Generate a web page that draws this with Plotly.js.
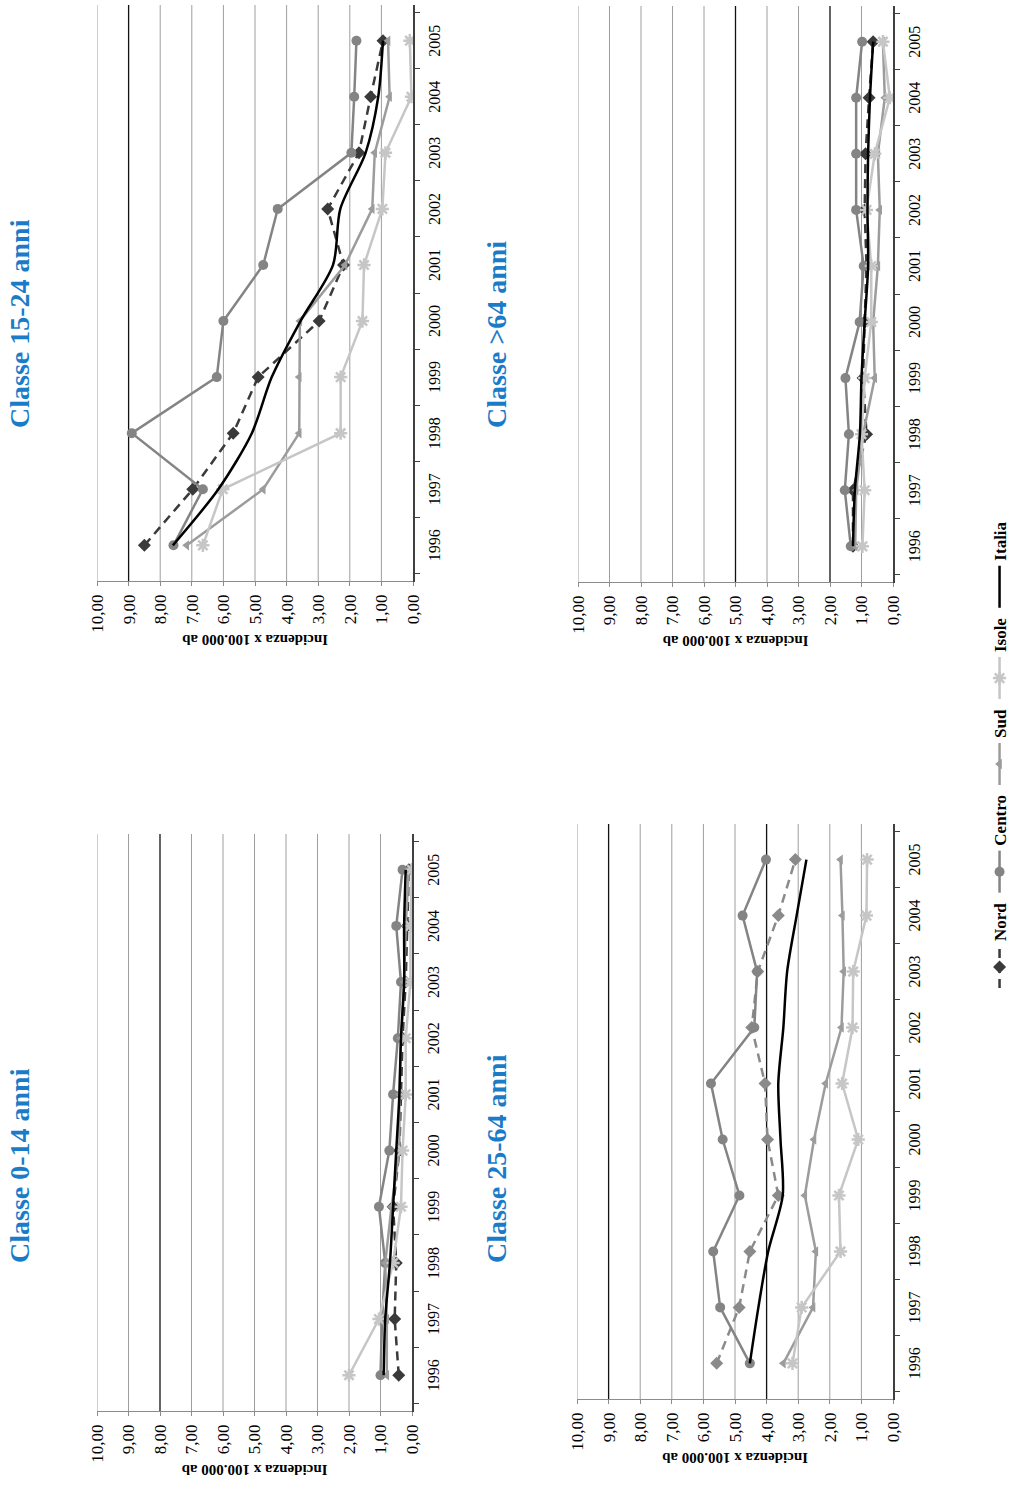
<!DOCTYPE html>
<html lang="it">
<head>
<meta charset="utf-8">
<script src="https://cdn.plot.ly/plotly-3.0.1.min.js"></script>
<style>
  html, body { margin: 0; padding: 0; background: #fff; overflow: hidden; }
  /* the page is laid out in landscape and turned a quarter turn */
  #pagina {
    position: absolute; left: 0; top: 0;
    width: 1493px; height: 1014px;
    transform-origin: 0 0;
    transform: translateY(1493px) rotate(-90deg);
  }
</style>
</head>
<body>
<div id="pagina"></div>
<script>
// Incidenza x 100.000 abitanti per ripartizione e classe d'età, 1996-2005
const anni = ['1996', '1997', '1998', '1999', '2000', '2001', '2002', '2003', '2004', '2005'];
const ripartizioni = ['Nord', 'Centro', 'Sud', 'Isole', 'Italia'];
const valoriAsse = [0, 1, 2, 3, 4, 5, 6, 7, 8, 9, 10];

// Classe 0-14 anni
const nord0014   = [0.42, 0.55, 0.50, 0.60, 0.40, 0.35, 0.30, 0.20, 0.15, 0.10];
const centro0014 = [1.00, 0.95, 0.85, 1.05, 0.72, 0.60, 0.45, 0.35, 0.50, 0.30];
const sud0014    = [0.80, 0.80, 0.85, 0.65, 0.40, 0.40, 0.35, 0.25, 0.20, 0.10];
const isole0014  = [2.00, 1.05, 0.60, 0.35, 0.30, 0.20, 0.20, 0.05, 0.05, 0.00];
const italia0014 = [0.90, 0.85, 0.70, 0.60, 0.50, 0.40, 0.35, 0.25, 0.25, 0.20];

// Classe 15-24 anni
const nord1524   = [8.50, 6.97, 5.69, 4.90, 2.97, 2.20, 2.70, 1.71, 1.34, 0.95];
const centro1524 = [7.58, 6.65, 8.90, 6.21, 6.00, 4.74, 4.28, 1.95, 1.86, 1.79];
const sud1524    = [7.16, 4.74, 3.60, 3.60, 3.58, 2.15, 1.29, 1.21, 0.74, 0.79];
const isole1524  = [6.65, 6.02, 2.29, 2.29, 1.60, 1.55, 0.97, 0.87, 0.05, 0.10];
const italia1524 = [7.60, 6.16, 5.10, 4.47, 3.56, 2.53, 2.30, 1.50, 1.10, 0.95];

// Classe 25-64 anni
const nord2564   = [5.58, 4.87, 4.53, 3.63, 3.97, 4.05, 4.47, 4.28, 3.63, 3.09];
const centro2564 = [4.53, 5.47, 5.69, 4.86, 5.39, 5.76, 4.39, 4.30, 4.76, 4.02];
const sud2564    = [3.47, 2.53, 2.44, 2.79, 2.50, 2.13, 1.63, 1.56, 1.60, 1.66];
const isole2564  = [3.18, 2.89, 1.66, 1.71, 1.10, 1.61, 1.28, 1.26, 0.84, 0.82];
const italia2564 = [4.53, 4.26, 3.95, 3.49, 3.56, 3.63, 3.47, 3.35, 3.05, 2.74];

// Classe >64 anni
const nord64   = [1.27, 1.27, 0.84, 0.95, 0.90, 0.84, 0.90, 0.87, 0.76, 0.63];
const centro64 = [1.34, 1.53, 1.40, 1.51, 1.06, 0.93, 1.17, 1.17, 1.17, 0.98];
const sud64    = [1.20, 1.17, 0.95, 0.58, 0.63, 0.48, 0.42, 0.48, 0.26, 0.32];
const isole64  = [0.97, 0.90, 1.00, 0.90, 0.69, 0.69, 0.84, 0.58, 0.10, 0.32];
const italia64 = [1.27, 1.21, 1.05, 1.00, 0.90, 0.79, 0.81, 0.79, 0.73, 0.63];

// righe di griglia più marcate in ciascun pannello
const righeScure0014 = [8];
const righeScure1524 = [9];
const righeScure2564 = [9, 4];
const righeScure64   = [5, 2];

const titoliPannelli = ['Classe 0-14 anni', 'Classe 15-24 anni', 'Classe 25-64 anni', 'Classe >64 anni'];
const titoloAsseY = 'Incidenza x 100.000 ab';

const SERIF = '"Liberation Serif", "Times New Roman", serif';
const W = 1493, H = 1014;

const stili = {
  Nord:   { mode: 'lines+markers', line: { color: '#3a3a3a', width: 2.5, dash: '9px,6px' },
            marker: { symbol: 'diamond', size: 10, color: '#3a3a3a' } },
  Centro: { mode: 'lines+markers', line: { color: '#848484', width: 2.5 },
            marker: { symbol: 'circle', size: 10, color: '#848484' } },
  Sud:    { mode: 'lines+markers', line: { color: '#9c9c9c', width: 2.5 },
            marker: { symbol: 'triangle-up', size: 9, color: '#9c9c9c' } },
  Isole:  { mode: 'lines+markers', line: { color: '#c6c6c6', width: 2.5 },
            marker: { symbol: 'asterisk-open', size: 11, color: '#c6c6c6', line: { color: '#c6c6c6', width: 2.5 } } },
  Italia: { mode: 'lines', line: { color: '#000000', width: 2.5, shape: 'spline', smoothing: 0.8 } }
};

const pannelli = [
  { serie: [nord0014, centro0014, sud0014, isole0014, italia0014], scure: righeScure0014 },
  { serie: [nord1524, centro1524, sud1524, isole1524, italia1524], scure: righeScure1524 },
  { serie: [nord2564, centro2564, sud2564, isole2564, italia2564], scure: righeScure2564, nordChiaro: true },
  { serie: [nord64, centro64, sud64, isole64, italia64], scure: righeScure64 }
];

// domini dei pannelli, in pixel della pagina orizzontale
const riquadri = [
  { u0: 82,  u1: 659,  v0: 97,  v1: 412 },
  { u0: 912, u1: 1488, v0: 97,  v1: 413 },
  { u0: 94,  u1: 669,  v0: 577, v1: 893 },
  { u0: 911, u1: 1487, v0: 578, v1: 893 }
];

const tracce = [];
const layout = {
  width: W, height: H,
  margin: { l: 0, r: 0, t: 0, b: 0, autoexpand: false },
  paper_bgcolor: '#fff', plot_bgcolor: '#fff',
  separators: ',.',
  font: { family: SERIF, color: '#000', size: 16 },
  showlegend: true,
  legend: {
    orientation: 'h', x: 500 / W, xanchor: 'left', y: 1 - 1000 / H, yanchor: 'middle',
    font: { family: SERIF, size: 17, color: '#000', weight: 'bold' },
    itemwidth: 42, tracegroupgap: 0, bgcolor: 'rgba(0,0,0,0)'
  },
  annotations: [],
  shapes: []
};

pannelli.forEach((p, i) => {
  const n = i + 1;
  const xa = n === 1 ? 'x' : 'x' + n;
  const ya = n === 1 ? 'y' : 'y' + n;
  const r = riquadri[i];

  p.serie.forEach((valori, k) => {
    const nome = ripartizioni[k];
    const st = JSON.parse(JSON.stringify(stili[nome]));
    if (p.nordChiaro && nome === 'Nord') {
      st.line.color = '#8a8a8a';
      st.marker.color = '#8a8a8a';
    }
    tracce.push(Object.assign({
      type: 'scatter', x: anni, y: valori, name: nome,
      xaxis: xa, yaxis: ya, showlegend: i === 0, legendgroup: nome,
      hoverinfo: 'skip'
    }, st));
  });

  layout['xaxis' + (n === 1 ? '' : n)] = {
    domain: [r.u0 / W, r.u1 / W], anchor: ya,
    type: 'category', tickson: 'boundaries',
    ticks: 'outside', ticklen: 5, tickcolor: '#404040', tickwidth: 1,
    showline: true, linecolor: '#404040', linewidth: 1.5,
    showgrid: false, zeroline: false,
    ticklabelstandoff: 6,
    tickfont: { family: SERIF, size: 16, color: '#000' },
    fixedrange: true
  };
  layout['yaxis' + (n === 1 ? '' : n)] = {
    domain: [1 - r.v1 / H, 1 - r.v0 / H], anchor: xa,
    range: [0, 10], tickvals: valoriAsse, tickformat: '.2f',
    showgrid: false,
    showline: true, linecolor: '#8c8c8c', linewidth: 1,
    ticks: 'outside', ticklen: 4, tickcolor: '#8c8c8c',
    zeroline: false,
    ticklabelstandoff: 5,
    tickfont: { family: SERIF, size: 17, color: '#000' },
    fixedrange: true
  };

  // griglia orizzontale, con alcune righe più scure
  valoriAsse.filter(v => v > 0).forEach(val => {
    const scura = p.scure.includes(val);
    layout.shapes.push({
      type: 'line', xref: xa + ' domain', yref: ya,
      x0: 0, x1: 1, y0: val, y1: val,
      line: { color: scura ? '#111111' : '#9e9e9e', width: scura ? 1.3 : 1 },
      layer: 'below'
    });
  });

  // titolo del pannello
  layout.annotations.push({
    text: titoliPannelli[i], xref: 'paper', yref: 'paper',
    x: (i % 2 === 0 ? 228 : 1063) / W, xanchor: 'left',
    y: 1 - (i < 2 ? 20 : 497) / H, yanchor: 'middle',
    showarrow: false,
    font: { family: SERIF, size: 28, color: '#1a7cc8', weight: 'bold' }
  });

  // titolo dell'asse dei valori
  layout.annotations.push({
    text: titoloAsseY, xref: 'paper', yref: 'paper',
    x: (r.u0 - 59) / W, xanchor: 'center',
    y: 1 - ((r.v0 + r.v1) / 2) / H, yanchor: 'middle',
    textangle: -90, showarrow: false,
    font: { family: SERIF, size: 15, color: '#000', weight: 'bold' }
  });
});

Plotly.newPlot('pagina', tracce, layout, { staticPlot: true, displayModeBar: false });
</script>
</body>
</html>
